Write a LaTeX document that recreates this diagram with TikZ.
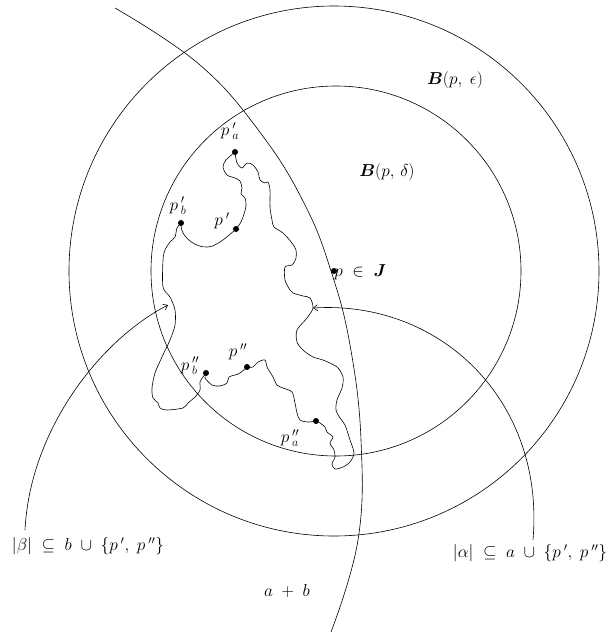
\documentclass[tikz,border=0pt]{standalone}
\usepackage{amsmath,amssymb}
\usepackage{bm}
\usetikzlibrary{arrows.meta}

\begin{document}
\begin{tikzpicture}[x=1pt,y=-1pt,line width=0.6pt,
    dot/.style={circle,fill,inner sep=0pt,minimum size=6pt},
    lab/.style={font=\LARGE,inner sep=1pt}]
  \useasboundingbox (0,0) rectangle (608,635);
  % balls round p
  \coordinate (p) at (334,271);
  \draw (p) circle[radius=265pt];
  \draw ([xshift=2pt]p) circle[radius=185pt];
  % the arc a+b
  \draw plot[smooth,tension=0.7] coordinates {(115,8) (200,65) (262,135) (305,205)
    (331,271) (350,345) (361,440) (358,540) (331,632)};
  % the wiggly path
  \draw plot[smooth,tension=0.5] coordinates {(235,152) (226,160) (223,167) (227,175)
    (235,178) (240,181) (242,188) (241,194) (245,198) (246,206) (244,214) (241,222) (236,229)};
  \draw plot[smooth,tension=0.7] coordinates {(236,229) (220,242) (207,247) (193,243)
    (183,233) (181,223)};
  \draw plot[smooth,tension=0.5] coordinates {(181,223) (177,228) (175,237) (170,242)
    (165,250) (163,260) (163,287) (170,297) (175,310) (175,325) (170,340) (162,357)
    (155,373) (152,388) (153,398) (158,403) (160,408) (167,410) (183,408) (188,403)
    (195,397) (200,390) (200,382) (203,377) (206,373)};
  \draw plot[smooth,tension=0.5] coordinates {(206,373) (205,378) (212,385) (220,386)
    (227,383) (229,377) (235,375) (240,373) (247,367)};
  \draw plot[smooth,tension=0.5] coordinates {(247,367) (253,367) (258,362) (265,360)
    (267,367) (273,377) (277,385) (283,388) (292,392) (295,403) (297,413) (300,420)
    (308,422) (316,421)};
  \draw plot[smooth,tension=0.5] coordinates {(235,152) (237,163) (242,168) (247,163)
    (253,165) (258,172) (260,180) (265,183) (268,182) (270,190) (270,207) (272,220)
    (274,227) (283,233) (292,243) (296,250) (296,258) (292,265) (285,267) (285,280)
    (290,290) (293,293) (303,296) (310,298) (313,308) (307,318) (297,330) (297,342)
    (303,350) (313,357) (323,360) (337,367) (343,377) (342,388) (337,400) (336,410)
    (340,418) (345,425) (350,440) (354,453) (350,462) (343,467) (335,469) (332,464)
    (335,457) (334,450) (330,443) (333,437) (327,432) (325,427) (320,423) (316,421)};
  % points
  \node[dot] (pa1) at (235,152) {};
  \node[dot] (pb1) at (181,223) {};
  \node[dot] (p1) at (236,229) {};
  \node[dot] (pb2) at (206,373) {};
  \node[dot] (p2) at (247,367) {};
  \node[dot] (pa2) at (316,421) {};
  \node[dot] (pJ) at (p) {};
  \node[lab] at (230,131) {$p\,'_a$};
  \node[lab] at (178,206) {$p\,'_b$};
  \node[lab] at (222,221) {$p\,'$};
  \node[lab] at (238,352) {$p\,''$};
  \node[lab] at (190,366) {$p\,''_b$};
  \node[lab] at (290,438) {$p\,''_a$};
  \node[lab,anchor=west] at (333,272) {$p\;\in\;\bm{J}$};
  \node[lab] at (455,80) {$\bm{B}(p,\;\epsilon)$};
  \node[lab] at (387,172) {$\bm{B}(p,\,\delta)$};
  \node[lab] at (287,591) {$a\;+\;b$};
  \node[lab] (beta) at (88,546) {$|\beta|\;\subseteq\;b\;\cup\;\{p\,',\;p\,''\}$};
  \node[lab] (alpha) at (530,553) {$|\alpha|\;\subseteq\;a\;\cup\;\{p\,',\;p\,''\}$};
  % arrows to the path
  \coordinate (betatail) at (25,530);
  \coordinate (betahead) at (168,305);
  \coordinate (alphatail) at (533,540);
  \coordinate (alphahead) at (313,308);
  \draw[-{Straight Barb[length=4pt,width=6pt]}] (betatail) .. controls (30,430) and (100,340) .. (betahead);
  \draw[-{Straight Barb[length=4pt,width=6pt]}] (alphatail) .. controls (545,400) and (440,300) .. (alphahead);
\end{tikzpicture}
\end{document}
